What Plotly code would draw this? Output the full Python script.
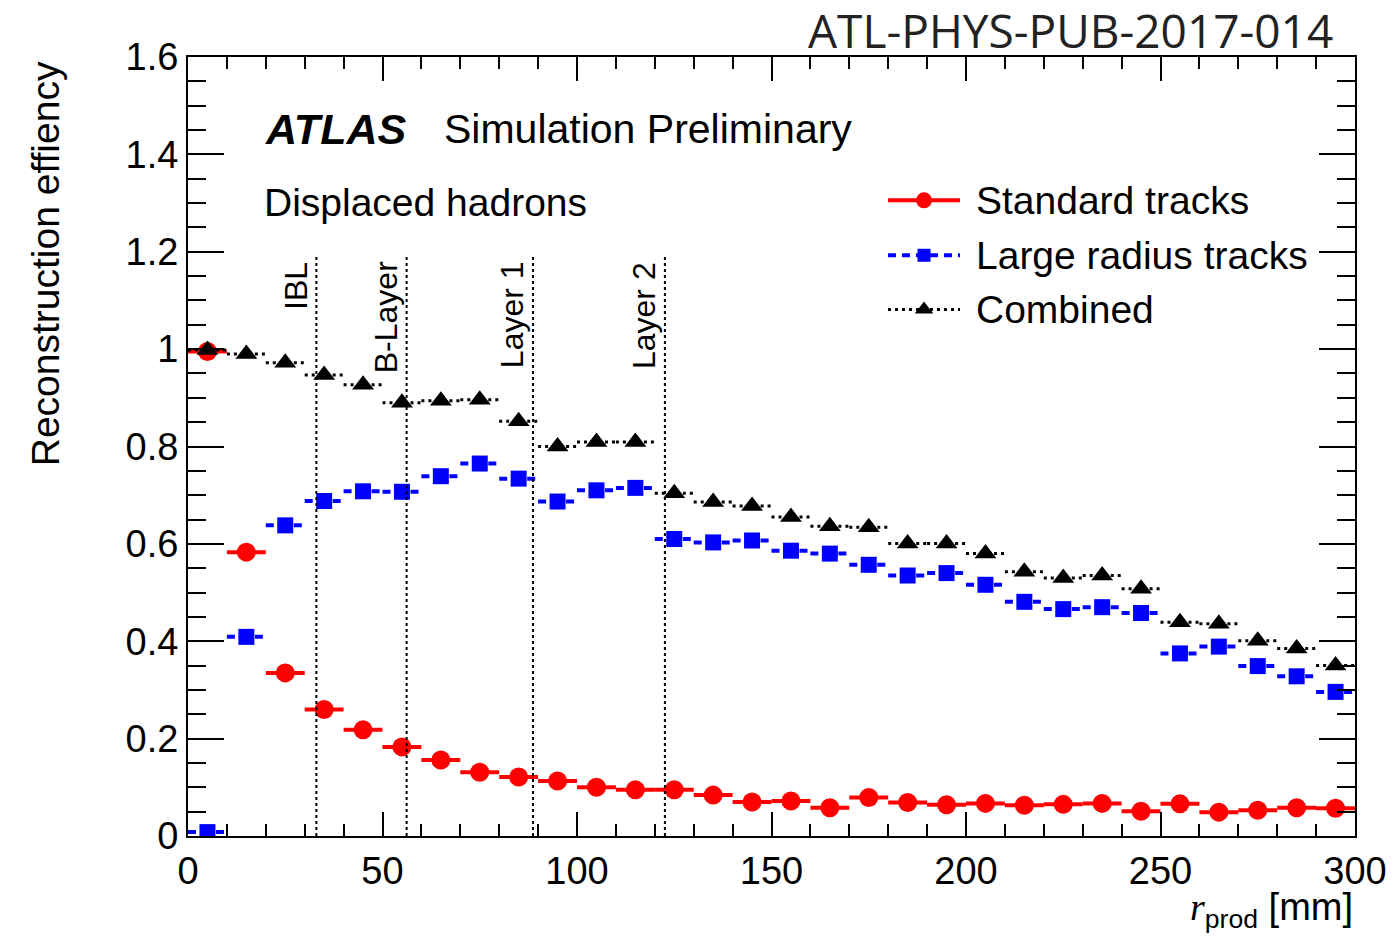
import plotly.graph_objects as go

# Production radius bins (mm): centres of 10 mm wide bins
r_centres = [5, 15, 25, 35, 45, 55, 65, 75, 85, 95, 105, 115, 125, 135, 145,
             155, 165, 175, 185, 195, 205, 215, 225, 235, 245, 255, 265, 275, 285, 295]
bin_half_width = 5

eff_standard = [0.995, 0.583, 0.335, 0.260, 0.218, 0.183, 0.156, 0.131, 0.121, 0.113,
                0.100, 0.095, 0.095, 0.084, 0.070, 0.072, 0.058, 0.079, 0.069, 0.064,
                0.067, 0.063, 0.065, 0.067, 0.051, 0.066, 0.049, 0.053, 0.058, 0.057]

eff_large_radius = [0.008, 0.409, 0.638, 0.688, 0.708, 0.707, 0.739, 0.765, 0.734, 0.687,
                    0.710, 0.715, 0.610, 0.603, 0.607, 0.586, 0.580, 0.557, 0.535, 0.540,
                    0.516, 0.481, 0.466, 0.470, 0.458, 0.375, 0.389, 0.349, 0.328, 0.296]

eff_combined = [0.998, 0.990, 0.972, 0.947, 0.927, 0.890, 0.894, 0.896, 0.852, 0.800,
                0.809, 0.809, 0.704, 0.686, 0.678, 0.655, 0.636, 0.634, 0.601, 0.601,
                0.580, 0.543, 0.530, 0.535, 0.508, 0.439, 0.436, 0.401, 0.385, 0.350]

# Pixel detector layers (radius in mm)
layer_names = ["IBL", "B-Layer", "Layer 1", "Layer 2"]
layer_radii = [33.0, 56.2, 88.7, 122.6]
layer_line_top = 1.19

y_tickvals = [0, 0.2, 0.4, 0.6, 0.8, 1.0, 1.2, 1.4, 1.6]
y_ticktext = ["0", "0.2", "0.4", "0.6", "0.8", "1", "1.2", "1.4", "1.6"]
x_tickvals = [0, 50, 100, 150, 200, 250, 300]

series_names = ["Standard tracks", "Large radius tracks", "Combined"]
series_values = [eff_standard, eff_large_radius, eff_combined]
series_colors = ["#ff0000", "#0000ff", "#000000"]
series_symbols = ["circle", "square", "triangle-up"]
series_sizes = [19, 16, 19]
series_dash = ["solid", "8px,6px", "3px,4px"]
series_width = [4, 4, 3]

FONT = "Liberation Sans, Arial, Helvetica, sans-serif"


def bin_segments(centres, values):
    xs, ys = [], []
    for c, v in zip(centres, values):
        xs += [c - bin_half_width, c + bin_half_width, None]
        ys += [v, v, None]
    return xs, ys


fig = go.Figure()

for name, vals, col, sym, size, dash, w in zip(series_names, series_values, series_colors,
                                               series_symbols, series_sizes, series_dash,
                                               series_width):
    sx, sy = bin_segments(r_centres, vals)
    fig.add_trace(go.Scatter(x=sx, y=sy, mode="lines", showlegend=False,
                             line=dict(color=col, width=w, dash=dash), hoverinfo="skip"))
    fig.add_trace(go.Scatter(x=r_centres, y=vals, mode="markers", name=name, showlegend=False,
                             marker=dict(symbol=sym, size=size, color=col, line=dict(width=0))))

# Legend drawn on an overlay axis spanning the plot frame (0..1 both ways)
legend_rows_y = [0.816, 0.7455, 0.676]
leg_x0, leg_x1, leg_xm = 0.5998, 0.6615, 0.6307
for name, col, sym, size, dash, w, ly in zip(series_names, series_colors, series_symbols,
                                             series_sizes, series_dash, series_width,
                                             legend_rows_y):
    fig.add_trace(go.Scatter(x=[leg_x0, leg_x1], y=[ly, ly], mode="lines", xaxis="x2",
                             yaxis="y2", showlegend=False, hoverinfo="skip",
                             line=dict(color=col, width=w, dash=dash)))
    fig.add_trace(go.Scatter(x=[leg_xm], y=[ly], mode="markers", xaxis="x2", yaxis="y2",
                             showlegend=False, hoverinfo="skip",
                             marker=dict(symbol=sym, size=size - 3, color=col)))
    fig.add_annotation(x=0.6735, y=ly, xref="paper", yref="paper", text=name,
                       showarrow=False, xanchor="left", yanchor="middle",
                       font=dict(family=FONT, size=39, color="black"))

# Detector layer markers
for name, rad in zip(layer_names, layer_radii):
    fig.add_shape(type="line", x0=rad, x1=rad, y0=0, y1=layer_line_top, xref="x", yref="y",
                  line=dict(color="black", width=2, dash="3px,3px"))
    fig.add_annotation(x=rad, y=layer_line_top, xref="x", yref="y", text=name,
                       textangle=-90, showarrow=False, xanchor="right", yanchor="top",
                       xshift=-1, yshift=-3, font=dict(family=FONT, size=32, color="black"))

fig.add_annotation(x=0.064, y=0.908, xref="paper", yref="paper",
                   text="<b><i>ATLAS</i></b>", showarrow=False, xanchor="left",
                   yanchor="middle", font=dict(family=FONT, size=43, color="black"))
fig.add_annotation(x=0.218, y=0.908, xref="paper", yref="paper",
                   text="Simulation Preliminary", showarrow=False, xanchor="left",
                   yanchor="middle", font=dict(family=FONT, size=41, color="black"))
fig.add_annotation(x=0.063, y=0.813, xref="paper", yref="paper",
                   text="Displaced hadrons", showarrow=False, xanchor="left",
                   yanchor="middle", font=dict(family=FONT, size=39, color="black"))

fig.add_annotation(x=0.983, y=1.035, xref="paper", yref="paper",
                   text="ATL-PHYS-PUB-2017-014", showarrow=False, xanchor="right",
                   yanchor="middle", font=dict(family="Open Sans, sans-serif", size=46,
                                                color="#222222"))

fig.add_annotation(x=-0.1225, y=0.734, xref="paper", yref="paper",
                   text="Reconstruction effiency", textangle=-90, showarrow=False,
                   xanchor="center", yanchor="middle",
                   font=dict(family=FONT, size=39, color="black"))

fig.add_annotation(x=1.0, y=-0.095, xref="paper", yref="paper",
                   text="<i><span style='font-family:Liberation Serif'>r</span></i>"
                        "<sub>prod</sub> [mm]",
                   showarrow=False, xanchor="right", yanchor="middle",
                   font=dict(family=FONT, size=38, color="black"))

axis_common = dict(showline=True, linecolor="black", linewidth=2, mirror="allticks",
                   ticks="inside", tickcolor="black", tickwidth=2, showgrid=False,
                   zeroline=False, tickfont=dict(family=FONT, size=38, color="black"))

fig.update_layout(
    width=1398, height=939,
    margin=dict(l=188, r=43, t=57, b=103),
    paper_bgcolor="white", plot_bgcolor="white",
    showlegend=False,
    xaxis=dict(range=[0, 300], tickvals=x_tickvals, ticklen=24,
               minor=dict(dtick=10, ticklen=12, tickwidth=2, ticks="inside",
                          tickcolor="black"),
               **axis_common),
    yaxis=dict(range=[0, 1.6], tickvals=y_tickvals, ticktext=y_ticktext, ticklen=36,
               minor=dict(dtick=0.05, ticklen=18, tickwidth=2, ticks="inside",
                          tickcolor="black"),
               **axis_common),
    xaxis2=dict(overlaying="x", range=[0, 1], visible=False),
    yaxis2=dict(overlaying="y", range=[0, 1], visible=False),
)

fig.write_html("out.html")
